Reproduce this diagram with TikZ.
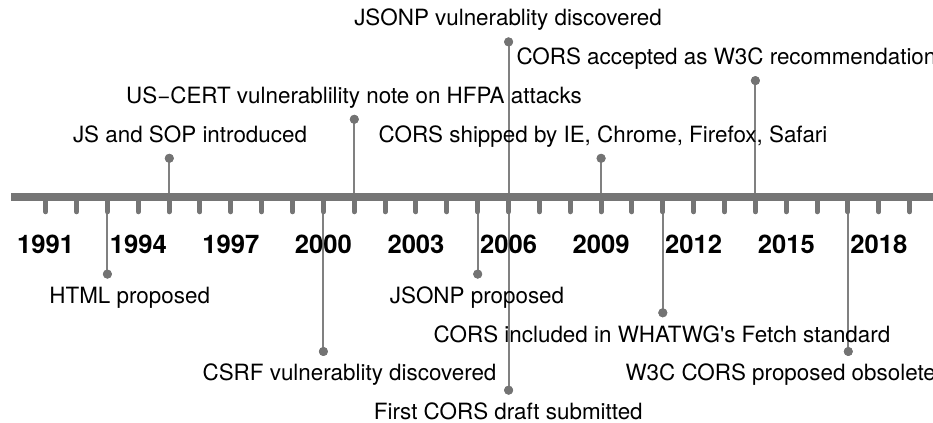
\documentclass[tikz,border=0pt]{standalone}
\usepackage{fontspec}
\setmainfont{TeX Gyre Heros}
\definecolor{axisgray}{HTML}{757575}
\definecolor{stemgray}{HTML}{808080}
\definecolor{dotgray}{HTML}{737373}

\tikzset{every picture/.style={line width=0.75pt}}
\tikzset{
  evdot/.style={circle, fill=dotgray, inner sep=0pt, minimum size=6.75pt},
  evlabel/.style={anchor=base, inner sep=0pt, font=\fontsize{16.8}{18}\selectfont},
  yearlabel/.style={anchor=base, inner sep=0pt, font=\bfseries\fontsize{19.2}{21}\selectfont},
  evstem/.style={draw=stemgray, line width=1.5pt},
  yeartick/.style={draw=axisgray, line width=3.75pt, line cap=round}
}

\begin{document}
\begin{tikzpicture}[x=0.75pt,y=0.75pt,yscale=-1,xscale=1]
	\useasboundingbox (0,0) rectangle (933,423);
	\clip (0,0) rectangle (933,423);

	%Bar ends
	\coordinate (axstart) at (11,196.7);
	\coordinate (axend) at (945,196.7);

	%Stem feet on the bar
	\coordinate (b1) at (169.3,196.7);
	\coordinate (b2) at (354.3,196.7);
	\coordinate (b3) at (508.6,196.7);
	\coordinate (b4) at (601.1,196.7);
	\coordinate (b5) at (755.4,196.7);
	\coordinate (b6) at (107.4,196.7);
	\coordinate (b7) at (323.4,196.7);
	\coordinate (b8) at (477.7,196.7);
	\coordinate (b9) at (508.6,196.7);
	\coordinate (b10) at (662.8,196.7);
	\coordinate (b11) at (848.3,196.7);

	%Dots above the bar
	\node[evdot] (d1) at (169.3,158.3) {};
	\node[evdot] (d2) at (354.3,119.3) {};
	\node[evdot] (d3) at (508.6,41.9) {};
	\node[evdot] (d4) at (601.1,158.3) {};
	\node[evdot] (d5) at (755.4,80.6) {};
	%Dots below the bar
	\node[evdot] (d6) at (107.4,274.1) {};
	\node[evdot] (d7) at (323.4,351.5) {};
	\node[evdot] (d8) at (477.7,274.1) {};
	\node[evdot] (d9) at (508.6,390.2) {};
	\node[evdot] (d10) at (662.8,312.8) {};
	\node[evdot] (d11) at (848.3,351.5) {};

	%Stems
	\foreach \k in {1,...,11}
		\draw[evstem] (b\k) -- (d\k.center);
	%redraw dots on top of stems
	\foreach \k in {1,...,11}
		\fill[dotgray] (d\k) circle (4.5);

	%Straight Lines (bar)
	\draw[axisgray, line width=6pt] (axstart) -- (axend);
	%Ticks
	\foreach \i in {0,...,28}
		\draw[yeartick] ({45.7+\i*30.857},197) -- ++(0,14.8);

	%Year labels
	\foreach \yr in {1991,1994,...,2018}
		\node[yearlabel] at ({45.7+(\yr-1991)*30.857},254) {\yr};

	% Text Node
	\node[evlabel] (l1) at (190,142.3) {JS and SOP introduced};
	% Text Node
	\node[evlabel] (l2) at (354,103.3) {US−CERT vulnerablility note on HFPA attacks};
	% Text Node
	\node[evlabel] (l3) at (508,25.9) {JSONP vulnerablity discovered};
	% Text Node
	\node[evlabel] (l4) at (603,142.3) {CORS shipped by IE, Chrome, Firefox, Safari};
	% Text Node
	\node[evlabel, anchor=base west] (l5) at (516,64.6) {CORS accepted as W3C recommendation};
	% Text Node
	\node[evlabel] (l6) at (129.7,303.4) {HTML proposed};
	% Text Node
	\node[evlabel] (l7) at (349.5,380.8) {CSRF vulnerablity discovered};
	% Text Node
	\node[evlabel] (l8) at (477,303.4) {JSONP proposed};
	% Text Node
	\node[evlabel] (l9) at (508.3,419.5) {First CORS draft submitted};
	% Text Node
	\node[evlabel] (l10) at (662,342.1) {CORS included in WHATWG\textquotesingle s Fetch standard};
	% Text Node
	\node[evlabel, anchor=base west] (l11) at (625,380.8) {W3C CORS proposed obsolete};

\end{tikzpicture}
\end{document}
